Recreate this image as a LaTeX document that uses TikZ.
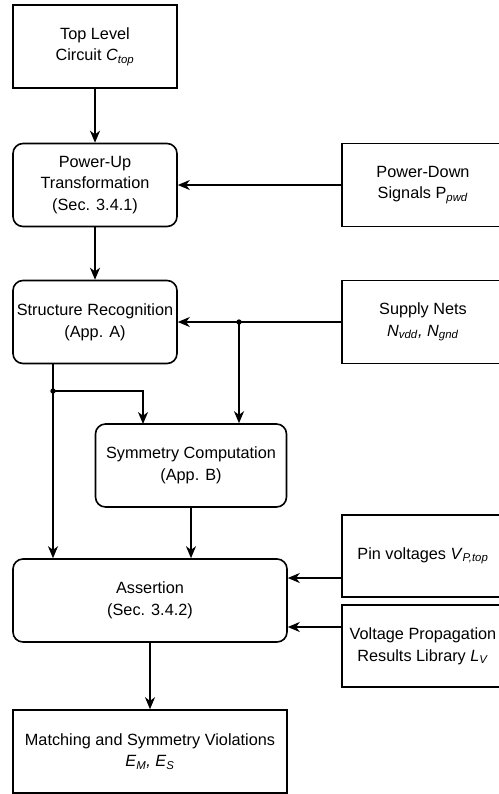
\documentclass[tikz,border=0pt]{standalone}
\usepackage{fontspec}
\setmainfont{Liberation Sans}
\usetikzlibrary{arrows.meta,calc}
\newcommand{\isub}[2]{\textit{#1}\textsubscript{\textit{#2}}}
\begin{document}
\begin{tikzpicture}[x=0.75pt,y=-0.75pt,
  every node/.style={font=\fontsize{12.2pt}{16.3pt}\selectfont, align=center, inner sep=0pt},
  box/.style={draw, line width=1.2pt, minimum height=62.25pt},
  rbox/.style={box, rounded corners=7.5pt},
  arr/.style={line width=1.3pt, -{Stealth[length=9pt,width=7.5pt,inset=2.8pt]}},
  ln/.style={line width=1.3pt},
  dot/.style={fill, circle, minimum size=4pt, inner sep=0pt}]
\useasboundingbox (0,0) rectangle (499,794);
\clip (0,0) rectangle (499,794);

% left column
\node[box,  minimum width=123pt]   (top) at (95,46.5)   {Top Level\\Circuit \isub{C}{top}};
\node[rbox, minimum width=123pt]   (pu)  at (95,185)    {Power-Up\\Transformation\\(Sec. 3.4.1)};
\node[rbox, minimum width=123pt]   (sr)  at (95,322)    {Structure Recognition\\(App. A)};
\node[rbox, minimum width=143.25pt](sc)  at (191,465.5) {Symmetry Computation\\(App. B)};
\node[rbox, minimum width=205.5pt] (as)  at (150,600.5) {Assertion\\(Sec. 3.4.2)};
\node[box,  minimum width=205.5pt] (out) at (150,751.5) {Matching and Symmetry Violations\\\isub{E}{M}\textit{,} \isub{E}{S}};

% inputs on the right
\node[box, minimum width=121.5pt] (pd) at (423,185)   {Power-Down\\Signals P\textsubscript{\textit{pwd}}};
\node[box, minimum width=121.5pt] (sn) at (423,322)   {Supply Nets\\\isub{N}{vdd}\textit{,} \isub{N}{gnd}};
\node[box, minimum width=121.5pt, minimum height=61.5pt] (pv) at (423,556) {Pin voltages \isub{V}{P,top}};
\node[box, minimum width=121.5pt, minimum height=61.5pt] (vp) at (423,646) {Voltage Propagation\\Results Library \isub{L}{V}};

% routing points
\coordinate (j1) at (239,322);
\coordinate (j2) at (53,391);
\coordinate (srout) at (53,363);
\coordinate (scin) at (143,424);
\coordinate (pvy) at (0,578);
\coordinate (vpy) at (0,627);

% main flow
\draw[arr] (top.south) -- (pu.north);
\draw[arr] (pu.south) -- (sr.north);
\draw[arr] (pd.west) -- (pu.east);
\draw[arr] (sn.west) -- (sr.east);
\draw[arr] (j1) -- (j1 |- sc.north);
\draw[ln]  (srout) -- (j2);
\draw[arr] (j2) -- (j2 |- as.north);
\draw[arr] (j2) -| (scin);
\draw[arr] (sc.south) -- (sc.south |- as.north);
\draw[arr] (pv.west |- pvy) -- (as.east |- pvy);
\draw[arr] (vp.west |- vpy) -- (as.east |- vpy);
\draw[arr] (as.south) -- (out.north);

% junction dots
\node[dot] (d1) at (j1) {};
\node[dot] (d2) at (j2) {};
\end{tikzpicture}
\end{document}
